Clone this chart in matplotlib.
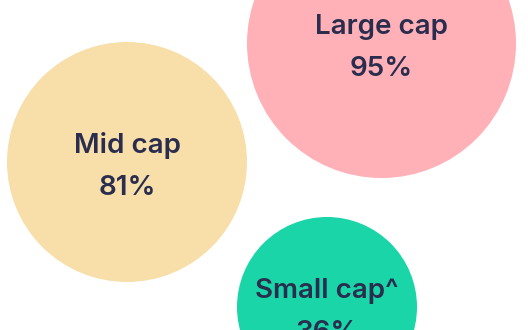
import matplotlib
matplotlib.use("Agg")
import matplotlib.pyplot as plt
from matplotlib.patches import Circle

# Chart data
categories = ["Large cap", "Mid cap", "Small cap^"]
shares = [95, 81, 36]

# Bubble layout (pixel space of a 528x330 canvas): center x, center y, radius
layout = [
    (381.5, 43.5, 134.5),
    (127.0, 162.0, 120.0),
    (327.0, 307.0, 90.0),
]
colors = ["#FFB1B7", "#F8DFA9", "#19D5A7"]
text_color = "#2A2D4E"

fig = plt.figure(figsize=(5.28, 3.30), dpi=100)
ax = fig.add_axes([0, 0, 1, 1])
ax.set_xlim(0, 528)
ax.set_ylim(330, 0)
ax.axis("off")

for name, share, (cx, cy, r), col in zip(categories, shares, layout, colors):
    ax.add_patch(Circle((cx, cy), r, facecolor=col, edgecolor="none"))
    ax.text(cx, cy - 9, name, ha="center", va="baseline", fontsize=20,
            family="Inter", fontweight="semibold", color=text_color)
    ax.text(cx, cy + 33, f"{share}%", ha="center", va="baseline", fontsize=20,
            family="Inter", fontweight="semibold", color=text_color)

fig.savefig("out.png", dpi=100)
